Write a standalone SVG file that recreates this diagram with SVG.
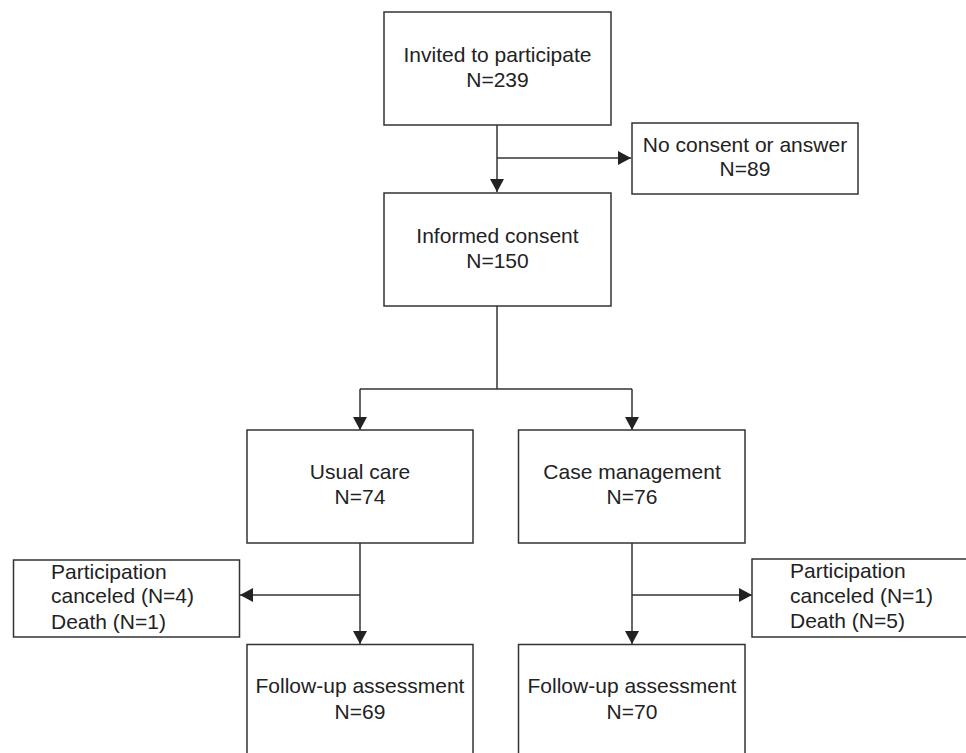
<svg xmlns="http://www.w3.org/2000/svg" width="966" height="753" viewBox="0 0 966 753">
<defs>
<marker id="ah" markerUnits="userSpaceOnUse" markerWidth="14" markerHeight="14" refX="13" refY="7" orient="auto">
<path d="M0,0 L13,7 L0,14 Z" fill="#222"/>
</marker>
<style>
.box{fill:#fff;stroke:#333;stroke-width:1.5}
.t{font-family:"Liberation Sans",Arial,sans-serif;font-size:21px;fill:#222}
.c{text-anchor:middle}
.ln{fill:none;stroke:#333;stroke-width:1.5}
</style>
</defs>
<rect width="966" height="753" fill="#fff"/>
<g id="connectors">
<line class="ln" x1="497" y1="125" x2="497" y2="192" marker-end="url(#ah)"/>
<line class="ln" x1="497" y1="158" x2="631" y2="158" marker-end="url(#ah)"/>
<polyline class="ln" points="497,306 497,389"/>
<polyline class="ln" points="360,389 632,389"/>
<line class="ln" x1="360" y1="389" x2="360" y2="430" marker-end="url(#ah)"/>
<line class="ln" x1="632" y1="389" x2="632" y2="430" marker-end="url(#ah)"/>
<line class="ln" x1="360" y1="543" x2="360" y2="644" marker-end="url(#ah)"/>
<line class="ln" x1="360" y1="595" x2="240" y2="595" marker-end="url(#ah)"/>
<line class="ln" x1="632" y1="543" x2="632" y2="644" marker-end="url(#ah)"/>
<line class="ln" x1="632" y1="595" x2="752" y2="595" marker-end="url(#ah)"/>
</g>
<g id="invited">
<rect class="box" x="384" y="12" width="227" height="113"/>
<text class="t c" x="497.5" y="62">Invited to participate</text>
<text class="t c" x="497.5" y="87">N=239</text>
</g>
<g id="noconsent">
<rect class="box" x="632" y="123" width="226" height="71"/>
<text class="t c" x="745" y="152">No consent or answer</text>
<text class="t c" x="745" y="176">N=89</text>
</g>
<g id="informed">
<rect class="box" x="384" y="193" width="227" height="113"/>
<text class="t c" x="497.5" y="243">Informed consent</text>
<text class="t c" x="497.5" y="268">N=150</text>
</g>
<g id="usual">
<rect class="box" x="247" y="430" width="226" height="113"/>
<text class="t c" x="360" y="479">Usual care</text>
<text class="t c" x="360" y="504">N=74</text>
</g>
<g id="casemgmt">
<rect class="box" x="518.5" y="430" width="226.5" height="113"/>
<text class="t c" x="632" y="479">Case management</text>
<text class="t c" x="632" y="504">N=76</text>
</g>
<g id="cancel-left">
<rect class="box" x="13.5" y="560" width="226" height="77"/>
<text class="t" x="51" y="579">Participation</text>
<text class="t" x="51" y="603">canceled (N=4)</text>
<text class="t" x="51" y="629">Death (N=1)</text>
</g>
<g id="cancel-right">
<rect class="box" x="752" y="559" width="230" height="78"/>
<text class="t" x="790" y="578">Participation</text>
<text class="t" x="790" y="603">canceled (N=1)</text>
<text class="t" x="790" y="628">Death (N=5)</text>
</g>
<g id="followup-left">
<rect class="box" x="247" y="644.5" width="226" height="130"/>
<text class="t c" x="360" y="693">Follow-up assessment</text>
<text class="t c" x="360" y="719">N=69</text>
</g>
<g id="followup-right">
<rect class="box" x="518.5" y="644.5" width="226.5" height="130"/>
<text class="t c" x="632" y="693">Follow-up assessment</text>
<text class="t c" x="632" y="719">N=70</text>
</g>
</svg>
